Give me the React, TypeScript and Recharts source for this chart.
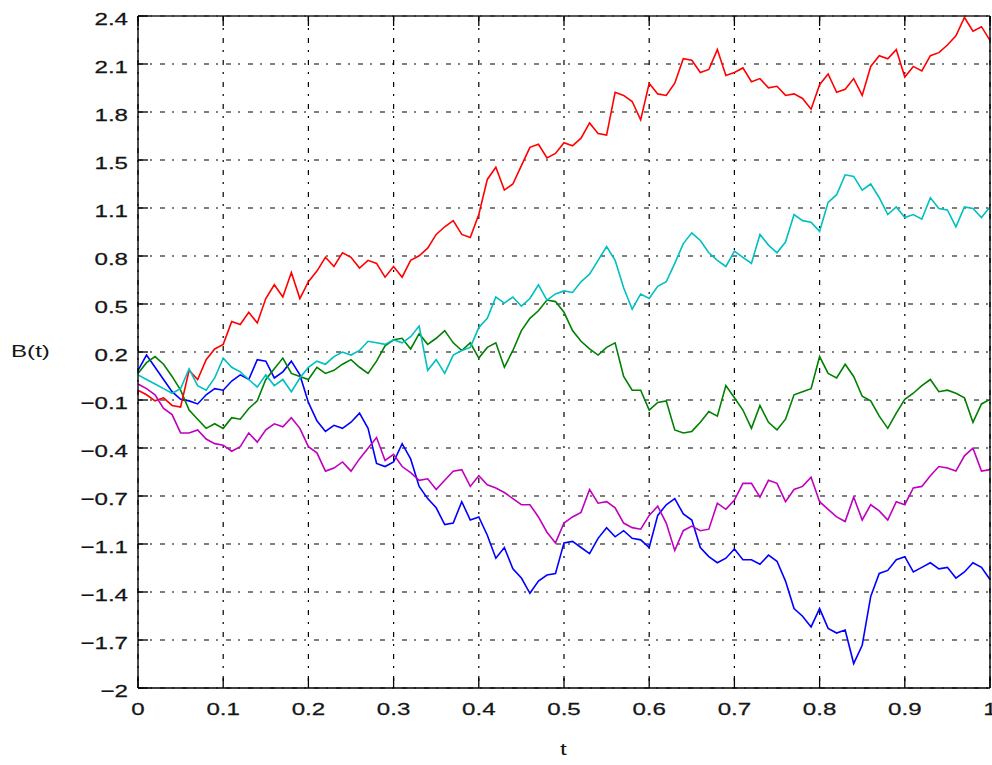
import React from 'react';
import { LineChart, Line, XAxis, YAxis, CartesianGrid } from 'recharts';

const tValues = [
  0, 0.01, 0.02, 0.03, 0.04, 0.05, 0.06, 0.07, 0.08, 0.09,
  0.1, 0.11, 0.12, 0.13, 0.14, 0.15, 0.16, 0.17, 0.18, 0.19,
  0.2, 0.21, 0.22, 0.23, 0.24, 0.25, 0.26, 0.27, 0.28, 0.29,
  0.3, 0.31, 0.32, 0.33, 0.34, 0.35, 0.36, 0.37, 0.38, 0.39,
  0.4, 0.41, 0.42, 0.43, 0.44, 0.45, 0.46, 0.47, 0.48, 0.49,
  0.5, 0.51, 0.52, 0.53, 0.54, 0.55, 0.56, 0.57, 0.58, 0.59,
  0.6, 0.61, 0.62, 0.63, 0.64, 0.65, 0.66, 0.67, 0.68, 0.69,
  0.7, 0.71, 0.72, 0.73, 0.74, 0.75, 0.76, 0.77, 0.78, 0.79,
  0.8, 0.81, 0.82, 0.83, 0.84, 0.85, 0.86, 0.87, 0.88, 0.89,
  0.9, 0.91, 0.92, 0.93, 0.94, 0.95, 0.96, 0.97, 0.98, 0.99, 1,
];

const redPath = [
  -0.05, -0.08, -0.12, -0.1, -0.15, -0.16, 0.08, 0.02, 0.15, 0.22,
  0.25, 0.4, 0.38, 0.46, 0.39, 0.55, 0.64, 0.56, 0.72, 0.55,
  0.66, 0.73, 0.82, 0.76, 0.85, 0.82, 0.75, 0.8, 0.78, 0.69,
  0.76, 0.69, 0.8, 0.83, 0.88, 0.97, 1.02, 1.06, 0.97, 0.95,
  1.1, 1.33, 1.41, 1.26, 1.3, 1.42, 1.54, 1.56, 1.47, 1.5,
  1.57, 1.55, 1.6, 1.7, 1.63, 1.62, 1.9, 1.88, 1.84, 1.72,
  1.96, 1.89, 1.88, 1.96, 2.12, 2.11, 2.03, 2.05, 2.18, 2.01,
  2.03, 2.06, 1.97, 1.99, 1.93, 1.94, 1.88, 1.89, 1.86, 1.79,
  1.95, 2.02, 1.9, 1.92, 1.99, 1.88, 2.07, 2.14, 2.12, 2.18,
  2.0, 2.07, 2.04, 2.14, 2.16, 2.21, 2.27, 2.39, 2.3, 2.33, 2.24,
];

const cyanPath = [
  0.05, 0.02, -0.01, -0.04, -0.07, -0.04, 0.09, -0.02, -0.05, 0.03,
  0.16, 0.1, 0.07, 0.02, -0.03, 0.05, -0.02, 0.02, -0.06, 0.03,
  0.1, 0.14, 0.12, 0.17, 0.2, 0.18, 0.21, 0.27, 0.26, 0.25,
  0.28, 0.26, 0.3, 0.37, 0.08, 0.15, 0.06, 0.18, 0.21, 0.23,
  0.36, 0.42, 0.56, 0.52, 0.56, 0.5, 0.55, 0.64, 0.54, 0.58,
  0.6, 0.59, 0.66, 0.71, 0.8, 0.89, 0.8, 0.62, 0.48, 0.58,
  0.55, 0.63, 0.66, 0.78, 0.91, 0.98, 0.93, 0.85, 0.8, 0.76,
  0.86, 0.82, 0.78, 0.97, 0.9, 0.85, 0.92, 1.1, 1.06, 1.05,
  0.99, 1.18, 1.23, 1.36, 1.35, 1.26, 1.3, 1.21, 1.1, 1.15,
  1.08, 1.1, 1.07, 1.21, 1.14, 1.13, 1.02, 1.15, 1.14, 1.08, 1.15,
];

const greenPath = [
  0.06, 0.13, 0.17, 0.12, 0.04, -0.05, -0.18, -0.24, -0.3, -0.27,
  -0.3, -0.23, -0.24, -0.17, -0.12, 0.02, 0.09, 0.16, 0.06, 0.04,
  0.02, 0.1, 0.06, 0.08, 0.12, 0.15, 0.1, 0.06, 0.14, 0.24,
  0.28, 0.29, 0.22, 0.32, 0.25, 0.29, 0.34, 0.26, 0.21, 0.26,
  0.16, 0.23, 0.26, 0.1, 0.21, 0.34, 0.42, 0.47, 0.54, 0.53,
  0.46, 0.34, 0.27, 0.22, 0.18, 0.23, 0.26, 0.04, -0.05, -0.05,
  -0.18, -0.13, -0.12, -0.31, -0.33, -0.32, -0.26, -0.19, -0.22, -0.02,
  -0.1, -0.18, -0.3, -0.15, -0.26, -0.31, -0.24, -0.08, -0.06, -0.04,
  0.17, 0.06, 0.03, 0.12, 0.04, -0.09, -0.12, -0.22, -0.3, -0.2,
  -0.11, -0.07, -0.02, 0.02, -0.06, -0.05, -0.07, -0.1, -0.26, -0.14, -0.11,
];

const bluePath = [
  0.08, 0.18, 0.1, 0.02, -0.06, -0.11, -0.12, -0.14, -0.08, -0.04,
  -0.05, 0.01, 0.05, 0.02, 0.15, 0.14, 0.03, 0.07, 0.14, 0.05,
  -0.13, -0.25, -0.32, -0.28, -0.3, -0.26, -0.2, -0.3, -0.53, -0.55,
  -0.52, -0.4, -0.5, -0.68, -0.76, -0.82, -0.93, -0.92, -0.78, -0.9,
  -0.88, -1.0, -1.15, -1.08, -1.22, -1.28, -1.38, -1.3, -1.26, -1.25,
  -1.05, -1.04, -1.08, -1.12, -1.02, -0.95, -1.01, -0.97, -1.02, -1.03,
  -1.08, -0.87, -0.8, -0.76, -0.86, -0.9, -1.08, -1.14, -1.18, -1.15,
  -1.09, -1.16, -1.16, -1.19, -1.13, -1.17, -1.3, -1.48, -1.53, -1.6,
  -1.48, -1.61, -1.64, -1.62, -1.84, -1.72, -1.4, -1.25, -1.23, -1.16,
  -1.14, -1.24, -1.21, -1.18, -1.22, -1.21, -1.28, -1.24, -1.18, -1.21, -1.29,
];

const magentaPath = [
  -0.01, -0.04, -0.08, -0.17, -0.21, -0.33, -0.33, -0.31, -0.37, -0.4,
  -0.41, -0.45, -0.42, -0.33, -0.39, -0.31, -0.27, -0.29, -0.23, -0.3,
  -0.42, -0.46, -0.58, -0.56, -0.52, -0.58, -0.5, -0.43, -0.36, -0.51,
  -0.47, -0.55, -0.59, -0.64, -0.63, -0.7, -0.64, -0.58, -0.57, -0.68,
  -0.61, -0.67, -0.69, -0.72, -0.76, -0.8, -0.8, -0.88, -0.98, -1.05,
  -0.92, -0.88, -0.85, -0.7, -0.79, -0.78, -0.82, -0.92, -0.95, -0.96,
  -0.87, -0.81, -0.92, -1.1, -0.97, -0.94, -0.97, -0.96, -0.79, -0.83,
  -0.77, -0.66, -0.66, -0.75, -0.64, -0.66, -0.78, -0.7, -0.68, -0.62,
  -0.78, -0.83, -0.88, -0.91, -0.75, -0.9, -0.8, -0.84, -0.9, -0.78,
  -0.8, -0.69, -0.68, -0.61, -0.55, -0.56, -0.58, -0.48, -0.43, -0.58, -0.57,
];

const xTicks = [0, 0.1, 0.2, 0.3, 0.4, 0.5, 0.6, 0.7, 0.8, 0.9, 1];
const xTickLabels = ['0', '0.1', '0.2', '0.3', '0.4', '0.5', '0.6', '0.7', '0.8', '0.9', '1'];
const yTicks = [
  -2, -1.685714, -1.371429, -1.057143, -0.742857, -0.428571, -0.114286, 0.2,
  0.514286, 0.828571, 1.142857, 1.457143, 1.771429, 2.085714, 2.4,
];
const yTickLabels = [
  '\u22122', '\u22121.7', '\u22121.4', '\u22121.1', '\u22120.7', '\u22120.4', '\u22120.1', '0.2',
  '0.5', '0.8', '1.1', '1.5', '1.8', '2.1', '2.4',
];

const seriesList = [
  { key: 'blue', values: bluePath, color: '#0000ff' },
  { key: 'green', values: greenPath, color: '#008000' },
  { key: 'red', values: redPath, color: '#ff0000' },
  { key: 'cyan', values: cyanPath, color: '#00bfbf' },
  { key: 'magenta', values: magentaPath, color: '#bf00bf' },
];

const data = tValues.map((t, i) => {
  const row: Record<string, number> = { t };
  seriesList.forEach((s) => {
    row[s.key] = s.values[i];
  });
  return row;
});

const FONT = '"Liberation Sans", Arial, Helvetica, sans-serif';
const SX = 1.42;
const FS = 17;
const TICK_LEN = 10;
const TEXT_COLOR = '#151515';

function LeftTick(props: any) {
  const { x, y, index } = props;
  return (
    <g>
      <line x1={x + 10} y1={y} x2={x + 10 + TICK_LEN} y2={y} stroke="#000" strokeWidth={1.3} />
      <g transform={`translate(${x},${y + 3}) scale(${SX},1)`}>
        <text x={0} y={0} textAnchor="end" dominantBaseline="central" fontSize={FS} fontFamily={FONT} fill={TEXT_COLOR} stroke={TEXT_COLOR} strokeWidth={0.25}>
          {yTickLabels[index]}
        </text>
      </g>
    </g>
  );
}

function RightTick(props: any) {
  const { x, y } = props;
  return <line x1={x} y1={y} x2={x - TICK_LEN} y2={y} stroke="#000" strokeWidth={1.3} />;
}

function TopTick(props: any) {
  const { x, y } = props;
  return <line x1={x} y1={y} x2={x} y2={y + TICK_LEN} stroke="#000" strokeWidth={1.3} />;
}

function BottomTick(props: any) {
  const { x, y, index } = props;
  return (
    <g>
      <line x1={x} y1={y - 10} x2={x} y2={y - 10 - TICK_LEN} stroke="#000" strokeWidth={1.3} />
      <g transform={`translate(${x},${y + 11}) scale(${SX},1)`}>
        <text x={0} y={0} textAnchor="middle" dominantBaseline="central" fontSize={FS} fontFamily={FONT} fill={TEXT_COLOR} stroke={TEXT_COLOR} strokeWidth={0.25}>
          {xTickLabels[index]}
        </text>
      </g>
    </g>
  );
}

const titleStyle: React.CSSProperties = {
  position: 'absolute',
  fontFamily: FONT,
  fontSize: FS,
  color: TEXT_COLOR,
  transformOrigin: 'left center',
  transform: `scaleX(${SX})`,
  whiteSpace: 'nowrap',
  lineHeight: '20px',
};

export default function App() {
  return (
    <div style={{ position: 'absolute', left: 0, top: 0, width: 992, height: 765, background: '#fff', overflow: 'hidden' }}>
      <LineChart width={992} height={765} data={data} margin={{ top: 0, right: 0, bottom: 37, left: 78 }}>
        <CartesianGrid
          xAxisId="b"
          yAxisId="l"
          stroke="#000"
          strokeWidth={1.2}
          strokeDasharray="5 7 2 8"
        />
        <XAxis
          xAxisId="b"
          dataKey="t"
          type="number"
          domain={[0, 1]}
          ticks={xTicks}
          interval={0}
          height={40}
          tickSize={0}
          tickMargin={10}
          tickLine={false}
          axisLine={{ stroke: '#000', strokeWidth: 1.4 }}
          tick={(p: any) => <BottomTick {...p} />}
        />
        <XAxis
          xAxisId="top"
          orientation="top"
          dataKey="t"
          type="number"
          domain={[0, 1]}
          ticks={xTicks}
          interval={0}
          height={16}
          tickSize={0}
          tickMargin={0}
          tickLine={false}
          axisLine={{ stroke: '#222', strokeWidth: 1.6 }}
          tick={(p: any) => <TopTick {...p} />}
        />
        <YAxis
          yAxisId="l"
          type="number"
          domain={[-2, 2.4]}
          ticks={yTicks}
          interval={0}
          width={60}
          tickSize={0}
          tickMargin={10}
          tickLine={false}
          axisLine={{ stroke: '#000', strokeWidth: 1.4 }}
          tick={(p: any) => <LeftTick {...p} />}
        />
        <YAxis
          yAxisId="r"
          orientation="right"
          type="number"
          domain={[-2, 2.4]}
          ticks={yTicks}
          interval={0}
          width={2}
          tickSize={0}
          tickMargin={0}
          tickLine={false}
          axisLine={{ stroke: '#000', strokeWidth: 1.4 }}
          tick={(p: any) => <RightTick {...p} />}
        />
        {seriesList.map((s) => (
          <Line
            key={s.key}
            xAxisId="b"
            yAxisId="l"
            type="linear"
            dataKey={s.key}
            stroke={s.color}
            strokeWidth={1.6}
            dot={false}
            activeDot={false}
            isAnimationActive={false}
          />
        ))}
      </LineChart>
      <div style={{ ...titleStyle, left: 11, top: 342 }}>B(t)</div>
      <div style={{ ...titleStyle, left: 560, top: 740 }}>t</div>
    </div>
  );
}
